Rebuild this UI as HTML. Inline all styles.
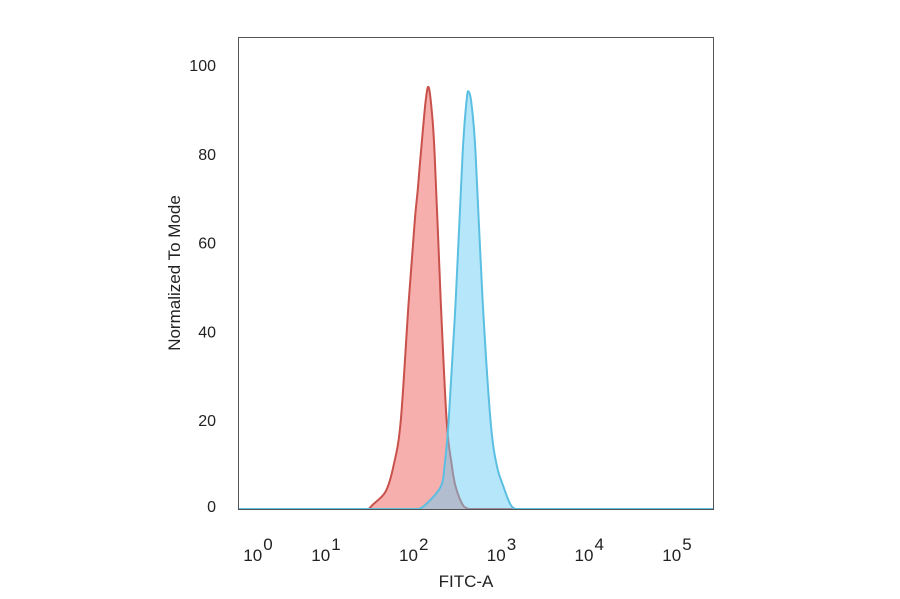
<!DOCTYPE html>
<html><head><meta charset="utf-8"><style>
body{margin:0;background:#fff;}
svg text{font-family:"Liberation Sans",Arial,sans-serif;fill:#222;}
</style></head><body>
<svg id="chart" width="900" height="594" xmlns="http://www.w3.org/2000/svg">
<rect x="0" y="0" width="900" height="594" fill="#fff"/>
<g id="plot"></g>
<rect x="238.5" y="37.5" width="475" height="472" fill="none" stroke="#555" stroke-width="1"/>
<g id="yticks"></g>
<g id="xticks"></g>
<text transform="translate(180,273) rotate(-90)" text-anchor="middle" font-size="17">Normalized To Mode</text>
<text x="466" y="587" text-anchor="middle" font-size="17">FITC-A</text>
</svg>
<script>
const yTicks=[0,20,40,60,80,100];
const xDecades=[0,1,2,3,4,5];
const redX=[25.6,28.5,40,49.3,59.3,73,85.5,92.5,100,114,123,133,144,169,197,225,250,300,351];
const redY=[0,1,4,10,20,47,65,72,80,92,95,90,80,47,20,10,5,1,0];
const blueX=[95,114,169,187.5,208,250,300,333,351,380,422,507,624,731,877,1054,1202];
const blueY=[0,1,5,10,20,47,80,92,94,91,80,47,20,10,5,1,0];
const NS="http://www.w3.org/2000/svg";
function ys(v){return 509-v*4.44;}
function xs(v){const l=Math.log10(Math.max(v,1));return l<1?265+l*68:333+(l-1)*87.75;}
const plot=document.getElementById('plot');
function smooth(pts){
  let d='';
  for(let i=0;i<pts.length-1;i++){
    const p0=pts[Math.max(i-1,0)],p1=pts[i],p2=pts[i+1],p3=pts[Math.min(i+2,pts.length-1)];
    const c1x=p1[0]+(p2[0]-p0[0])/6,c1y=p1[1]+(p2[1]-p0[1])/6;
    const c2x=p2[0]-(p3[0]-p1[0])/6,c2y=p2[1]-(p3[1]-p1[1])/6;
    d+=' C'+c1x.toFixed(1)+','+Math.min(c1y,509).toFixed(1)+' '+c2x.toFixed(1)+','+Math.min(c2y,509).toFixed(1)+' '+p2[0].toFixed(1)+','+p2[1].toFixed(1);
  }
  return d;
}
function series(xv,yv,fill,stroke,name){
  const pts=xv.map((x,i)=>[xs(x),ys(yv[i])]);
  let d='M238,'+ys(0)+' L'+pts[0][0].toFixed(1)+','+pts[0][1].toFixed(1)+smooth(pts)+' L713,'+ys(0);
  const a=document.createElementNS(NS,'path');
  a.setAttribute('d',d+' Z');a.setAttribute('fill',fill);a.setAttribute('stroke','none');
  
  
  plot.appendChild(a);
  const p=document.createElementNS(NS,'path');
  p.setAttribute('d',d);p.setAttribute('fill','none');p.setAttribute('stroke',stroke);p.setAttribute('stroke-width','2');p.setAttribute('stroke-linejoin','round');
  
  
  plot.appendChild(p);
}
series(redX,redY,'rgba(238,110,105,0.55)','#c8514b','control-histogram');
series(blueX,blueY,'rgba(110,205,243,0.5)','#5bbfe2','sample-histogram');
const yt=document.getElementById('yticks');
yTicks.forEach(v=>{const t=document.createElementNS(NS,'text');
t.setAttribute('x',216);t.setAttribute('y',ys(v)+6-(v===0?3:0));t.setAttribute('text-anchor','end');t.setAttribute('font-size','16');
t.textContent=v;


yt.appendChild(t);});
const xt=document.getElementById('xticks');
xDecades.forEach(e=>{const t=document.createElementNS(NS,'text');
const x=xs(Math.pow(10,e));
t.setAttribute('x',x-7);t.setAttribute('y',561);t.setAttribute('text-anchor','middle');t.setAttribute('font-size','17');
t.innerHTML='10<tspan dx="1" dy="-11" font-size="17">'+e+'</tspan>';


xt.appendChild(t);});
</script>
</body></html>
